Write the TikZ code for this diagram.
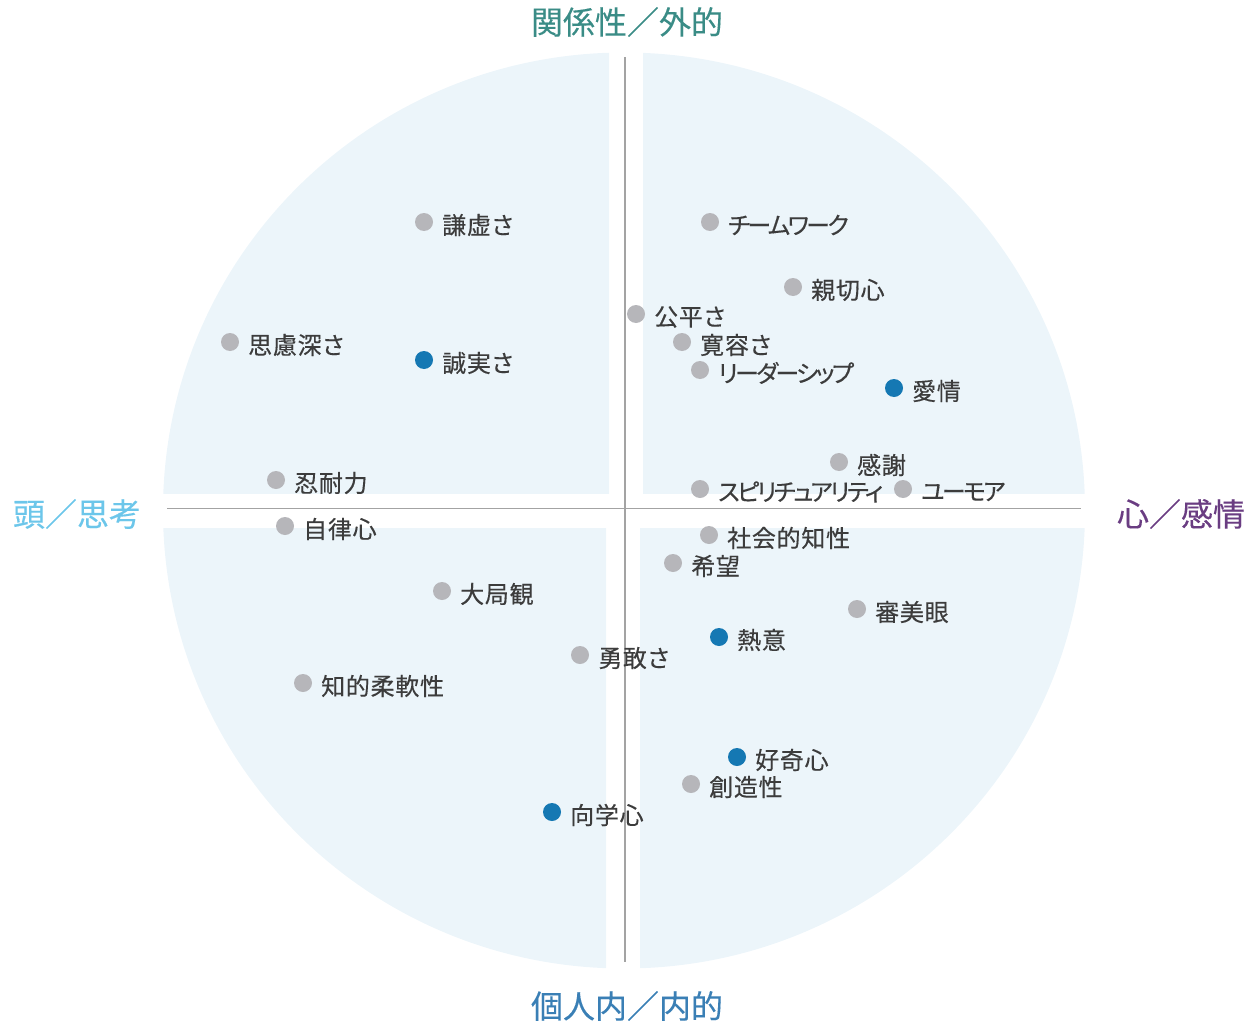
\documentclass[tikz,border=0pt]{standalone}
\usepackage{fontspec}
\newfontfamily\jp[RawFeature={+palt},FakeBold=0.3,LetterSpace=3]{Noto Sans CJK JP}
\newfontfamily\jpax[FakeBold=0.3]{Noto Sans CJK JP}
\definecolor{fillc}{HTML}{ECF5FA}
\definecolor{gdotc}{HTML}{B6B6BA}
\definecolor{bdotc}{HTML}{1578B3}
\definecolor{txtc}{HTML}{3C3C3C}
\definecolor{axc}{HTML}{A3A3A3}
\definecolor{topc}{HTML}{3A8C86}
\definecolor{botc}{HTML}{3A7FB5}
\definecolor{leftc}{HTML}{6CC6EA}
\definecolor{rightc}{HTML}{6A3D82}
\newcommand\kana{\addfontfeature{LetterSpace=-11}}
\tikzset{
  gdot/.style={circle,fill=gdotc,minimum size=18pt,inner sep=0pt},
  bdot/.style={circle,fill=bdotc,minimum size=18pt,inner sep=0pt},
  lbl/.style={font=\jp\fontsize{24}{28}\selectfont,text=txtc,inner sep=0pt,anchor=west},
  axlbl/.style={font=\jpax\fontsize{32}{36}\selectfont,inner sep=0pt},
  axline/.style={draw=axc,line width=1.6pt}
}
\newcommand\qdot[5]{\node[#4] (#1) at (#2,#3) {};
  \node[lbl] (#1t) at ([xshift=18pt,yshift=-3pt]#1.center) {#5};}
\begin{document}
\begin{tikzpicture}[x=1pt,y=-1pt]
\useasboundingbox (0,0) rectangle (1250,1022);
% quadrants
\begin{scope}
\clip (0,0) rectangle (609,493);
\fill[fillc] (624,510.5) ellipse [x radius=461,y radius=458];
\end{scope}
\begin{scope}
\clip (643,0) rectangle (1250,493);
\fill[fillc] (624,510.5) ellipse [x radius=461,y radius=458];
\end{scope}
\begin{scope}
\clip (0,528) rectangle (606,1022);
\fill[fillc] (624,510.5) ellipse [x radius=461,y radius=458];
\end{scope}
\begin{scope}
\clip (640,528) rectangle (1250,1022);
\fill[fillc] (624,510.5) ellipse [x radius=461,y radius=458];
\end{scope}
% axes
\coordinate (vt) at (625,57);
\coordinate (vb) at (625,962);
\coordinate (hl) at (167,508.5);
\coordinate (hr) at (1081,508.5);
\draw[axline] (vt) -- (vb);
\draw[axline] (hl) -- (hr);
% axis labels
\node[axlbl,text=topc] (ltop) at (627,22) {関係性／外的};
\node[axlbl,text=botc] (lbot) at (627,1006) {個人内／内的};
\node[axlbl,text=leftc] (lleft) at (77,514) {頭／思考};
\node[axlbl,text=rightc] (lright) at (1181,514) {心／感情};
% points
\qdot{a1}{424}{222}{gdot}{謙虚さ}
\qdot{a2}{230}{342}{gdot}{思慮深さ}
\qdot{a3}{424}{360}{bdot}{誠実さ}
\qdot{a4}{276}{480}{gdot}{忍耐力}
\qdot{b1}{710}{222}{gdot}{\kana チームワーク}
\qdot{b2}{793}{287}{gdot}{親切心}
\qdot{b3}{636}{314}{gdot}{公平さ}
\qdot{b4}{682}{342}{gdot}{寛容さ}
\qdot{b5}{700}{370}{gdot}{\kana リーダーシップ}
\qdot{b6}{894}{388}{bdot}{愛情}
\qdot{b7}{839}{462}{gdot}{感謝}
\qdot{b8}{700}{489}{gdot}{\kana スピリチュアリティ}
\qdot{b9}{903}{489}{gdot}{\kana ユーモア}
\qdot{c1}{285}{526}{gdot}{自律心}
\qdot{c2}{442}{591}{gdot}{大局観}
\qdot{c3}{580}{655}{gdot}{勇敢さ}
\qdot{c4}{303}{683}{gdot}{知的柔軟性}
\qdot{c5}{552}{812}{bdot}{向学心}
\qdot{d1}{709}{535}{gdot}{社会的知性}
\qdot{d2}{673}{563}{gdot}{希望}
\qdot{d3}{857}{609}{gdot}{審美眼}
\qdot{d4}{719}{637}{bdot}{熱意}
\qdot{d5}{737}{757}{bdot}{好奇心}
\qdot{d6}{691}{784}{gdot}{創造性}
\end{tikzpicture}
\end{document}
